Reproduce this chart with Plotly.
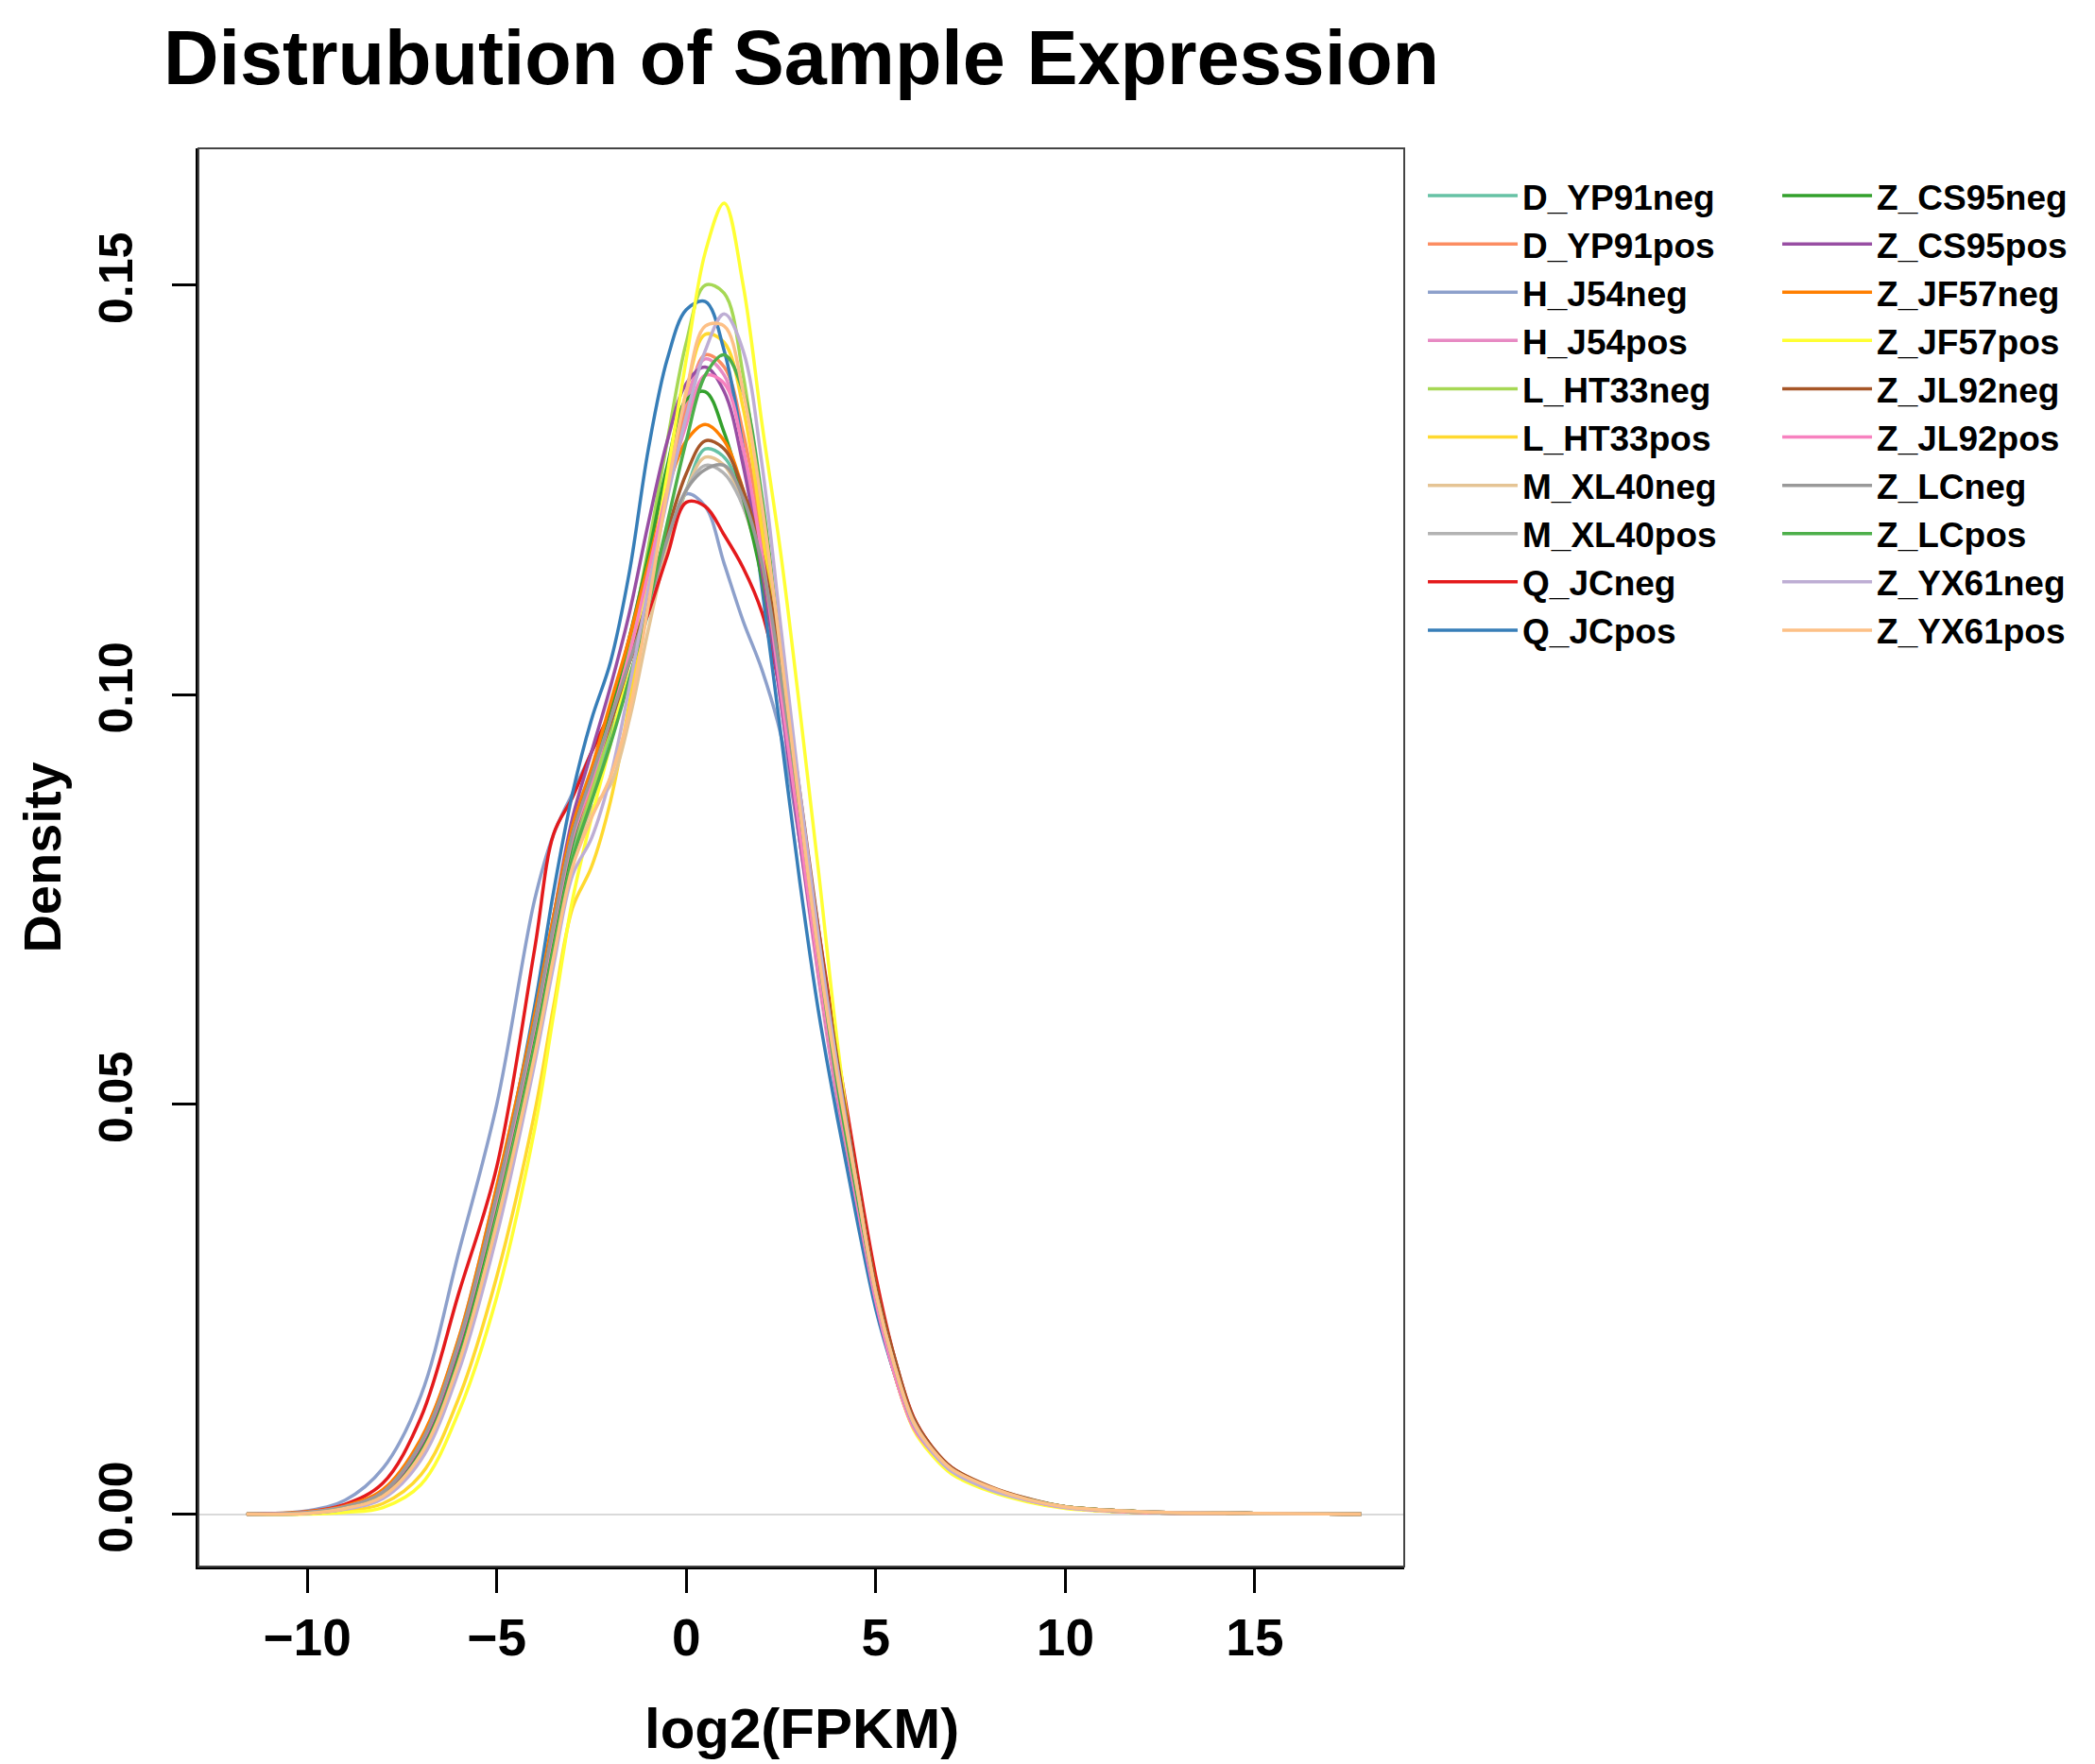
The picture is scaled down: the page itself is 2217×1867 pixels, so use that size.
import plotly.graph_objects as go

# log2(FPKM) grid shared by every density curve
x_grid = [-11.6, -10, -9, -8, -7, -6, -5, -4, -3.5, -3, -2.5, -2, -1.5, -1, -0.5, 0,
          0.5, 1, 1.5, 2, 2.5, 3, 3.5, 4, 4.5, 5, 5.5, 6, 6.5, 7, 8, 9, 10, 12, 15, 17.8]

# densities, one list per sample
d_yp91neg = [0, 0.0002, 0.0008, 0.0024, 0.0078, 0.0195, 0.037, 0.058, 0.070, 0.081, 0.088, 0.095, 0.102, 0.110, 0.118, 0.125,
             0.130, 0.129, 0.124, 0.115, 0.100, 0.084, 0.068, 0.053, 0.040, 0.027, 0.018, 0.0113, 0.0078, 0.0055, 0.0032, 0.0018, 0.0009, 0.0003, 0.0001, 0]
d_yp91pos = [0, 0.0002, 0.0009, 0.0027, 0.0085, 0.0205, 0.038, 0.059, 0.071, 0.082, 0.089, 0.097, 0.106, 0.116, 0.126, 0.135,
             0.1415, 0.140, 0.132, 0.119, 0.101, 0.083, 0.066, 0.051, 0.038, 0.026, 0.017, 0.0105, 0.0074, 0.0052, 0.0030, 0.0017, 0.0008, 0.0002, 0.0001, 0]
h_j54neg = [0, 0.0004, 0.0017, 0.0056, 0.0145, 0.0320, 0.050, 0.075, 0.083, 0.088, 0.093, 0.098, 0.104, 0.111, 0.118, 0.1245,
            0.123, 0.116, 0.109, 0.103, 0.095, 0.082, 0.066, 0.051, 0.038, 0.026, 0.017, 0.0105, 0.0073, 0.0051, 0.0029, 0.0016, 0.0008, 0.0002, 0.0001, 0]
h_j54pos = [0, 0.0002, 0.0009, 0.0028, 0.0088, 0.021, 0.039, 0.060, 0.072, 0.083, 0.090, 0.098, 0.107, 0.117, 0.127, 0.136,
            0.141, 0.139, 0.130, 0.116, 0.099, 0.082, 0.065, 0.050, 0.038, 0.026, 0.017, 0.0105, 0.0075, 0.0053, 0.0031, 0.0017, 0.0008, 0.0002, 0.0001, 0]
l_ht33neg = [0, 0.0001, 0.0007, 0.0022, 0.0075, 0.019, 0.036, 0.057, 0.069, 0.080, 0.088, 0.096, 0.106, 0.118, 0.131, 0.143,
             0.150, 0.149, 0.139, 0.122, 0.102, 0.083, 0.066, 0.051, 0.038, 0.026, 0.017, 0.0105, 0.0073, 0.0051, 0.0030, 0.0017, 0.0008, 0.0002, 0.0001, 0]
l_ht33pos = [0, 0.0001, 0.0004, 0.0013, 0.0048, 0.0142, 0.029, 0.049, 0.062, 0.074, 0.079, 0.087, 0.099, 0.113, 0.126, 0.137,
             0.144, 0.143, 0.135, 0.120, 0.102, 0.084, 0.067, 0.052, 0.039, 0.027, 0.018, 0.011, 0.0075, 0.0053, 0.0031, 0.0017, 0.0008, 0.0002, 0.0001, 0]
m_xl40neg = [0, 0.0001, 0.0007, 0.0022, 0.0072, 0.0185, 0.0355, 0.056, 0.068, 0.079, 0.086, 0.089, 0.097, 0.108, 0.118, 0.125,
             0.129, 0.128, 0.123, 0.115, 0.101, 0.085, 0.068, 0.053, 0.040, 0.027, 0.018, 0.0113, 0.0078, 0.0055, 0.0032, 0.0018, 0.0009, 0.0003, 0.0001, 0]
m_xl40pos = [0, 0.0002, 0.0009, 0.0028, 0.0090, 0.0215, 0.040, 0.061, 0.073, 0.084, 0.091, 0.097, 0.104, 0.111, 0.119, 0.125,
             0.128, 0.127, 0.123, 0.115, 0.101, 0.085, 0.068, 0.053, 0.040, 0.027, 0.018, 0.0113, 0.0079, 0.0056, 0.0033, 0.0019, 0.0009, 0.0003, 0.0001, 0]
q_jcneg = [0, 0.0003, 0.0012, 0.0038, 0.0118, 0.0270, 0.0424, 0.069, 0.083, 0.0875, 0.093, 0.098, 0.104, 0.110, 0.117, 0.1235,
           0.123, 0.1195, 0.1155, 0.110, 0.100, 0.086, 0.071, 0.056, 0.042, 0.029, 0.019, 0.0118, 0.0081, 0.0057, 0.0033, 0.0018, 0.0009, 0.0003, 0.0001, 0]
q_jcpos = [0, 0.0002, 0.0008, 0.0025, 0.0082, 0.0205, 0.039, 0.062, 0.076, 0.088, 0.097, 0.104, 0.115, 0.130, 0.141, 0.147,
           0.148, 0.142, 0.130, 0.113, 0.095, 0.077, 0.061, 0.048, 0.036, 0.025, 0.017, 0.0105, 0.0073, 0.0052, 0.0031, 0.0017, 0.0008, 0.0002, 0.0001, 0]
z_cs95neg = [0, 0.0002, 0.0008, 0.0025, 0.0080, 0.0200, 0.038, 0.059, 0.071, 0.082, 0.090, 0.098, 0.107, 0.117, 0.128, 0.136,
             0.137, 0.132, 0.124, 0.114, 0.100, 0.084, 0.068, 0.053, 0.039, 0.027, 0.018, 0.011, 0.0076, 0.0053, 0.0031, 0.0018, 0.0009, 0.0003, 0.0001, 0]
z_cs95pos = [0, 0.0002, 0.0008, 0.0026, 0.0084, 0.0205, 0.039, 0.060, 0.073, 0.085, 0.093, 0.101, 0.110, 0.121, 0.131, 0.138,
             0.140, 0.137, 0.128, 0.115, 0.099, 0.082, 0.066, 0.051, 0.038, 0.026, 0.017, 0.0105, 0.0074, 0.0052, 0.0030, 0.0017, 0.0008, 0.0002, 0.0001, 0]
z_jf57neg = [0, 0.0003, 0.0010, 0.0030, 0.0092, 0.0215, 0.040, 0.061, 0.073, 0.084, 0.091, 0.099, 0.107, 0.116, 0.125, 0.131,
             0.133, 0.131, 0.125, 0.116, 0.101, 0.085, 0.069, 0.054, 0.040, 0.028, 0.018, 0.0115, 0.0079, 0.0055, 0.0032, 0.0018, 0.0009, 0.0003, 0.0001, 0]
z_jf57pos = [0, 0.0000, 0.0002, 0.0008, 0.0036, 0.0125, 0.0265, 0.047, 0.061, 0.075, 0.085, 0.094, 0.104, 0.114, 0.127, 0.141,
             0.154, 0.160, 0.150, 0.133, 0.117, 0.098, 0.078, 0.057, 0.040, 0.027, 0.017, 0.0103, 0.0071, 0.0049, 0.0028, 0.0015, 0.0007, 0.0002, 0.0001, 0]
z_jl92neg = [0, 0.0002, 0.0009, 0.0027, 0.0086, 0.0208, 0.039, 0.060, 0.072, 0.083, 0.090, 0.0965, 0.104, 0.112, 0.120, 0.127,
             0.131, 0.130, 0.125, 0.117, 0.104, 0.088, 0.071, 0.055, 0.041, 0.028, 0.019, 0.0117, 0.0081, 0.0057, 0.0034, 0.0019, 0.0009, 0.0003, 0.0001, 0]
z_jl92pos = [0, 0.0002, 0.0009, 0.0027, 0.0086, 0.0208, 0.0385, 0.0595, 0.0715, 0.0825, 0.0895, 0.097, 0.105, 0.115, 0.125, 0.133,
             0.139, 0.138, 0.130, 0.117, 0.100, 0.083, 0.066, 0.051, 0.038, 0.026, 0.017, 0.0105, 0.0075, 0.0053, 0.0031, 0.0017, 0.0008, 0.0002, 0.0001, 0]
z_lcneg = [0, 0.0002, 0.0009, 0.0027, 0.0087, 0.021, 0.039, 0.060, 0.072, 0.083, 0.090, 0.097, 0.104, 0.111, 0.119, 0.125,
           0.1275, 0.128, 0.124, 0.116, 0.102, 0.086, 0.069, 0.054, 0.040, 0.027, 0.018, 0.0113, 0.0078, 0.0055, 0.0032, 0.0018, 0.0009, 0.0003, 0.0001, 0]
z_lcpos = [0, 0.0001, 0.0007, 0.0022, 0.0074, 0.0188, 0.036, 0.057, 0.069, 0.080, 0.087, 0.094, 0.102, 0.111, 0.121, 0.131,
           0.139, 0.1415, 0.137, 0.124, 0.105, 0.086, 0.068, 0.052, 0.039, 0.027, 0.018, 0.011, 0.0076, 0.0053, 0.0031, 0.0018, 0.0009, 0.0003, 0.0001, 0]
z_yx61neg = [0, 0.0001, 0.0006, 0.0019, 0.0066, 0.0175, 0.034, 0.055, 0.067, 0.078, 0.0825, 0.090, 0.101, 0.113, 0.124, 0.134,
             0.142, 0.1465, 0.142, 0.128, 0.108, 0.088, 0.070, 0.054, 0.040, 0.027, 0.018, 0.011, 0.0075, 0.0052, 0.0030, 0.0017, 0.0008, 0.0003, 0.0001, 0]
z_yx61pos = [0, 0.0001, 0.0007, 0.0022, 0.0073, 0.0185, 0.0355, 0.056, 0.068, 0.079, 0.085, 0.090, 0.098, 0.111, 0.125, 0.137,
             0.145, 0.145, 0.137, 0.123, 0.105, 0.086, 0.068, 0.053, 0.040, 0.027, 0.018, 0.0112, 0.0078, 0.0055, 0.0033, 0.0018, 0.0009, 0.0003, 0.0001, 0]

samples = ['D_YP91neg', 'D_YP91pos', 'H_J54neg', 'H_J54pos', 'L_HT33neg', 'L_HT33pos',
           'M_XL40neg', 'M_XL40pos', 'Q_JCneg', 'Q_JCpos', 'Z_CS95neg', 'Z_CS95pos',
           'Z_JF57neg', 'Z_JF57pos', 'Z_JL92neg', 'Z_JL92pos', 'Z_LCneg', 'Z_LCpos',
           'Z_YX61neg', 'Z_YX61pos']
densities = [d_yp91neg, d_yp91pos, h_j54neg, h_j54pos, l_ht33neg, l_ht33pos,
             m_xl40neg, m_xl40pos, q_jcneg, q_jcpos, z_cs95neg, z_cs95pos,
             z_jf57neg, z_jf57pos, z_jl92neg, z_jl92pos, z_lcneg, z_lcpos,
             z_yx61neg, z_yx61pos]

colors = ['#66C2A5', '#FC8D62', '#8DA0CB', '#E78AC3', '#A6D854', '#FFD92F',
          '#E5C494', '#B3B3B3', '#E41A1C', '#377EB8', '#33A02C', '#984EA3',
          '#FF7F00', '#FFFF33', '#A65628', '#F781BF', '#999999', '#4DAF4A',
          '#BEAED4', '#FDC086']

font = 'Liberation Sans, Arial, Helvetica, sans-serif'

fig = go.Figure()
for i, (name, dens) in enumerate(zip(samples, densities)):
    fig.add_trace(go.Scatter(
        x=x_grid, y=dens, mode='lines', name=name,
        line=dict(color=colors[i], width=3.5, shape='spline', smoothing=1.0),
        legend='legend' if i < 10 else 'legend2',
    ))

legend_style = dict(
    font=dict(family=font, size=37, color='black', weight='bold'),
    bgcolor='rgba(0,0,0,0)', borderwidth=0, tracegroupgap=0,
    yanchor='top', y=0.987, xanchor='left', itemwidth=95,
)

fig.update_layout(
    width=2217, height=1867,
    paper_bgcolor='white', plot_bgcolor='white',
    margin=dict(l=202, r=739, t=149, b=217),
    showlegend=True,
    title=dict(text='Distrubution of Sample Expression',
               font=dict(family=font, size=81, color='black', weight='bold'),
               x=(202 + 1276 / 2) / 2217, xanchor='center',
               y=1, yanchor='top', pad=dict(t=24),
               xref='container', yref='container'),
    legend=dict(x=1.0157, **legend_style),
    legend2=dict(x=1.3096, **legend_style),
    xaxis=dict(
        range=[-12.87, 18.94], tickvals=[-10, -5, 0, 5, 10, 15],
        ticks='outside', ticklen=25, tickwidth=3, tickcolor='black',
        showline=True, linecolor='black', linewidth=3, mirror=False,
        showgrid=False, zeroline=False, ticklabelstandoff=0,
        tickfont=dict(family=font, size=55, color='black', weight='bold'),
    ),
    yaxis=dict(
        range=[-0.0064, 0.1667], tickvals=[0, 0.05, 0.10, 0.15],
        ticktext=['0.00', '0.05', '0.10', '0.15'], tickangle=-90,
        ticks='outside', ticklen=25, tickwidth=3, tickcolor='black',
        showline=True, linecolor='black', linewidth=3, mirror=False,
        showgrid=False, zeroline=True, zerolinecolor='#d9d9d9', zerolinewidth=2,
        ticklabelstandoff=22,
        tickfont=dict(family=font, size=50, color='black', weight='bold'),
    ),
    shapes=[dict(type='rect', xref='paper', yref='paper', x0=0, x1=1, y0=0, y1=1,
                 line=dict(color='#444444', width=2), layer='above')],
    annotations=[
        dict(text='log2(FPKM)', xref='paper', yref='paper', x=0.5, y=-0.114,
             xanchor='center', yanchor='middle', showarrow=False,
             font=dict(family=font, size=60, color='black', weight='bold')),
        dict(text='Density', xref='paper', yref='paper', x=-0.130, y=0.5,
             xanchor='center', yanchor='middle', showarrow=False, textangle=-90,
             font=dict(family=font, size=56, color='black', weight='bold')),
    ],
)

fig.write_html('out.html')
